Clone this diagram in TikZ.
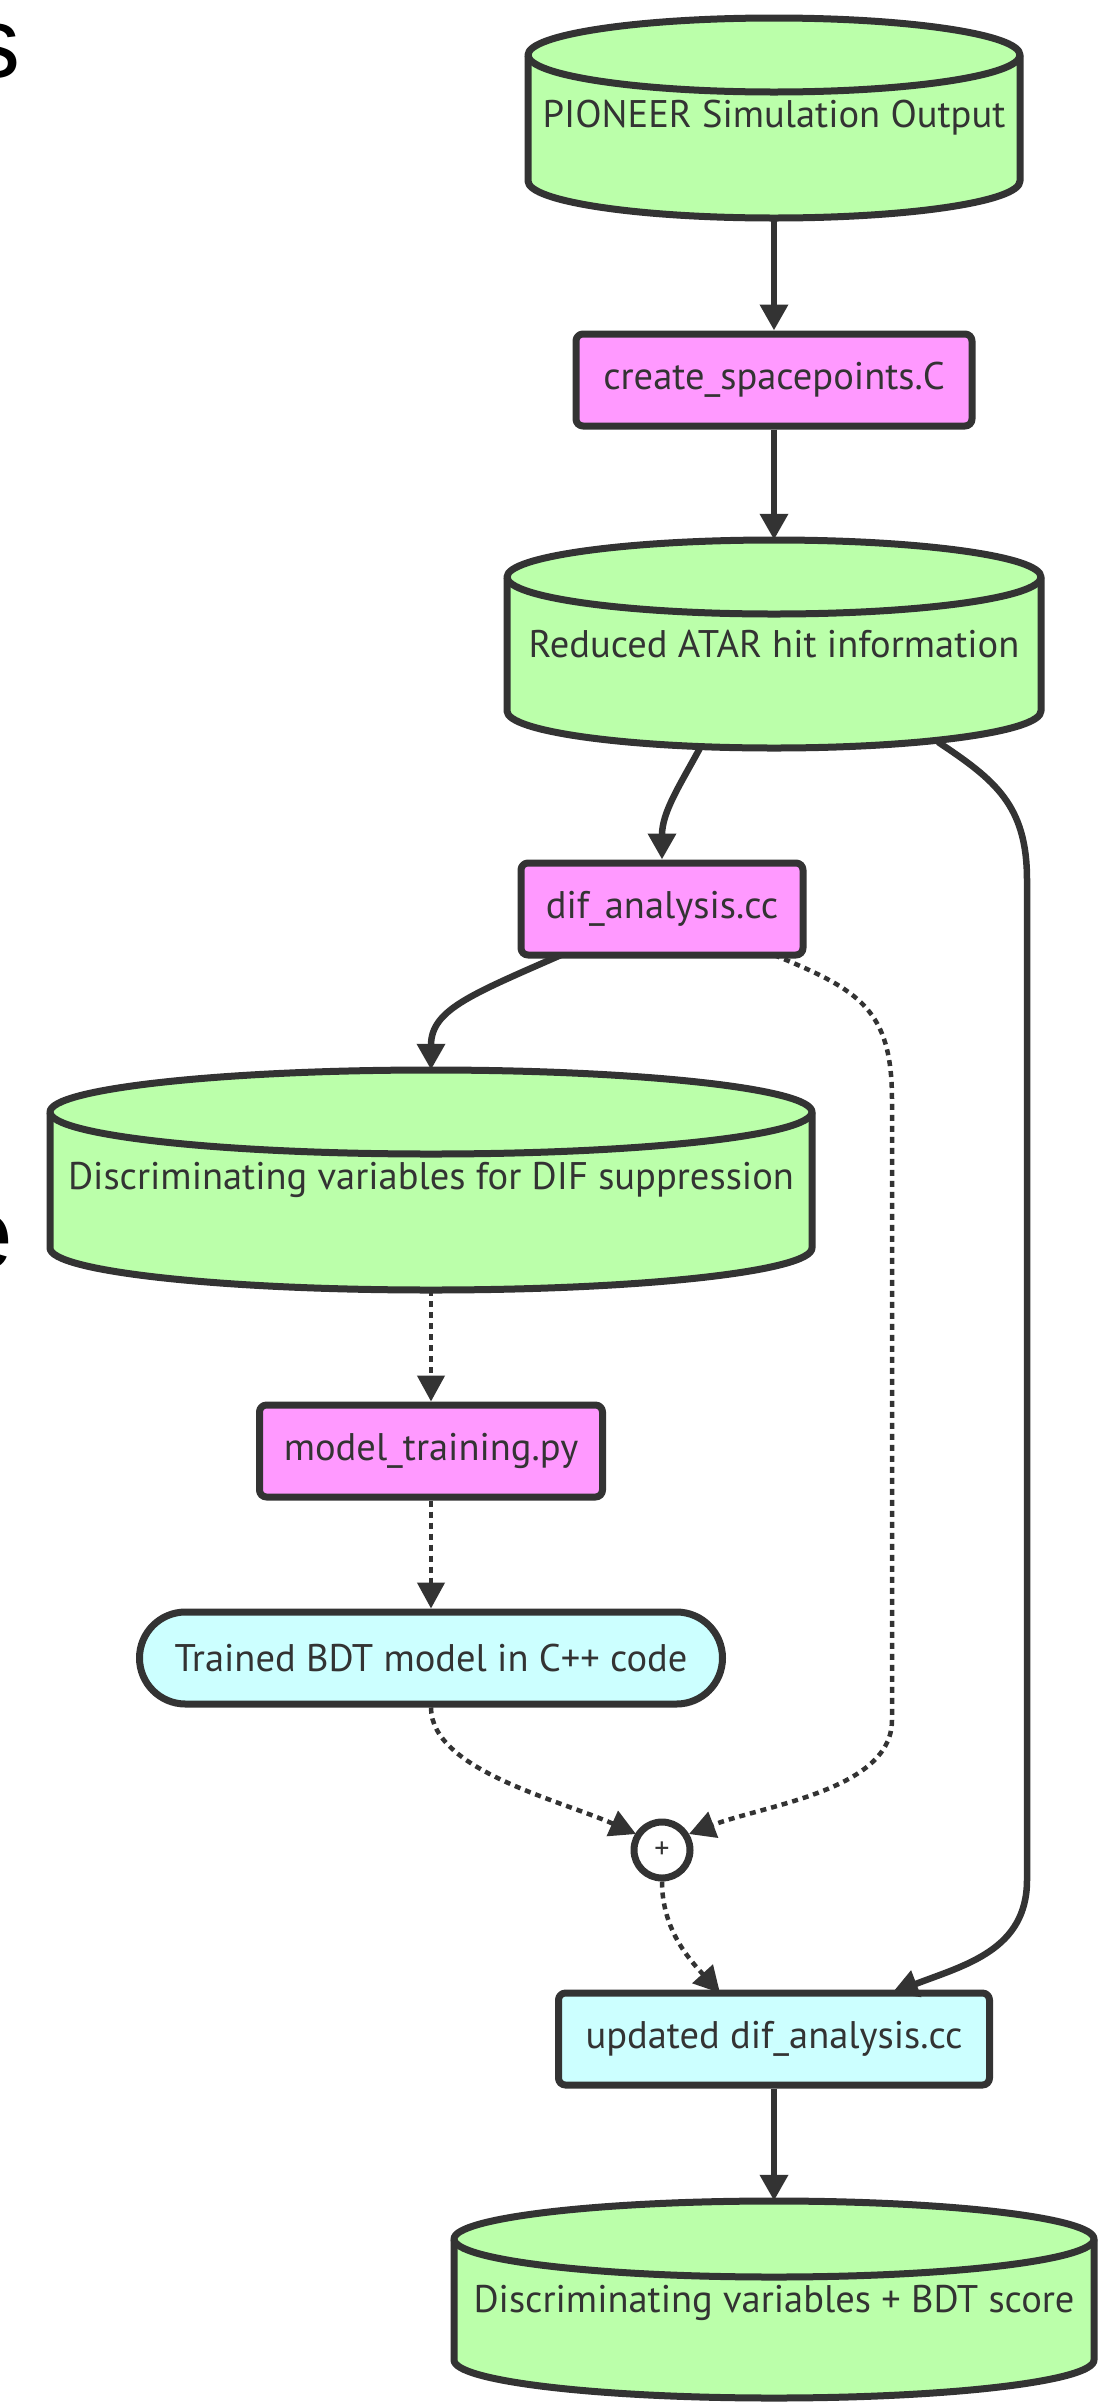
\documentclass[tikz,border=0pt]{standalone}
\usepackage{fontspec}
\setmainfont{PT Sans}
\newfontfamily\bigfont{Liberation Sans}
\usetikzlibrary{arrows.meta}
\definecolor{ink}{HTML}{333333}
\definecolor{cylgreen}{HTML}{BBFFAA}
\definecolor{procpink}{HTML}{FF99FF}
\definecolor{outcyan}{HTML}{CCFFFF}
\tikzset{
  shapeline/.style={draw=ink, line width=7pt, line join=round},
  txt/.style={text=ink, font=\fontsize{38.5}{42}\selectfont, inner sep=0pt},
  procbox/.style={shapeline, fill=procpink, rounded corners=7pt, txt, inner sep=0pt},
  outbox/.style={shapeline, fill=outcyan, rounded corners=7pt, txt, inner sep=0pt},
  solidflow/.style={draw=ink, line width=6.5pt, -{Triangle[length=26pt,width=27pt]}},
  dotflow/.style={draw=ink, line width=4.5pt, dash pattern=on 6pt off 5pt, -{Triangle[length=26pt,width=27pt]}},
}
% #1 name, #2 cx, #3 outer top y, #4 outer bottom y, #5 rx, #6 ry, #7 text, #8 text y
\newcommand{\mycyl}[8]{%
  \path[shapeline, fill=cylgreen]
    ({#2-#5},{-(#3+#6)}) -- ({#2-#5},{-(#4-#6)})
    arc[start angle=180, end angle=360, x radius=#5, y radius=#6]
    -- ({#2+#5},{-(#3+#6)})
    arc[start angle=0, end angle=180, x radius=#5, y radius=#6] -- cycle;
  \draw[shapeline] ({#2-#5},{-(#3+#6)})
    arc[start angle=180, end angle=360, x radius=#5, y radius=#6];
  \node[inner sep=0pt, minimum width={2*#5*1pt}, minimum height={(#4-#3)*1pt}] (#1) at (#2,{-(#3+#4)/2}) {};
  \node[txt] (#1-label) at (#2,{-#8}) {#7};
}
\begin{document}
\begin{tikzpicture}[x=1pt, y=1pt]
\useasboundingbox (0,0) rectangle (1102,-2402);
\fill[white] (0,0) rectangle (1102,-2402);

% cut-off fragments at the left edge
\node[anchor=base west, inner sep=0pt, font=\bigfont\fontsize{100}{100}\selectfont] (fragS) at (-30,-77) {s};
\node[anchor=base west, inner sep=0pt, font=\bigfont\fontsize{100}{100}\selectfont] (fragE) at (-43,-1268) {e};

% cylinders
\mycyl{pio}{774}{18}{218}{246}{37}{PIONEER Simulation Output}{118}
\mycyl{red}{774}{540}{748}{267}{37}{Reduced ATAR hit information}{644}
\mycyl{disc}{431}{1070}{1290}{381}{42}{Discriminating variables for DIF suppression}{1180}
\mycyl{fin}{774}{2201}{2398}{320}{38}{Discriminating variables + BDT score}{2303}

% boxes
\node[procbox, minimum width=396pt, minimum height=92pt] (csp) at (774,-380) {create\_spacepoints.C};
\node[procbox, minimum width=282pt, minimum height=92pt] (dif) at (662,-909) {dif\_analysis.cc};
\node[procbox, minimum width=343pt, minimum height=92pt] (mt) at (431,-1451) {model\_training.py};
\node[outbox, rounded corners=46pt, minimum width=583pt, minimum height=92pt] (tbdt) at (431,-1658) {Trained BDT model in C++ code};
\node[outbox, minimum width=431pt, minimum height=92pt] (upd) at (774,-2039) {updated dif\_analysis.cc};
\node[shapeline, fill=white, circle, minimum size=56pt, inner sep=0pt, text=ink, font=\fontsize{30}{30}\selectfont] (plus) at (662,-1850) {+};

% connector end points on curved borders
\coordinate (redL) at (700,-748);
\coordinate (redR) at (938,-742);
\coordinate (difL) at (561,-955);
\coordinate (difR) at (774,-955);
\coordinate (updR) at (892,-1993);
\coordinate (updL) at (720,-1993);
\coordinate (plusL) at (636,-1834);
\coordinate (plusR) at (689,-1834);

% solid connectors
\draw[solidflow] (pio.south) -- (csp.north);
\draw[solidflow] (csp.south) -- (red.north);
\draw[solidflow] (redL) .. controls (680,-785) and (662,-812) .. (dif.north);
\draw[solidflow] (redR) .. controls (995,-780) and (1027,-805) .. (1027,-880)
   -- (1027,-1880) .. controls (1027,-1950) and (965,-1965) .. (updR);
\draw[solidflow] (difL) .. controls (470,-995) and (431,-1010) .. (disc.north);
\draw[solidflow] (upd.south) -- (fin.north);

% dotted connectors
\draw[dotflow] (difR) .. controls (860,-990) and (892,-1010) .. (892,-1100)
   -- (892,-1720) .. controls (892,-1790) and (765,-1805) .. (plusR);
\draw[dotflow] (disc.south) -- (mt.north);
\draw[dotflow] (mt.south) -- (tbdt.north);
\draw[dotflow] (tbdt.south) .. controls (431,-1770) and (560,-1800) .. (plusL);
\draw[dotflow] (plus.south) .. controls (662,-1930) and (690,-1960) .. (updL);
\end{tikzpicture}
\end{document}
